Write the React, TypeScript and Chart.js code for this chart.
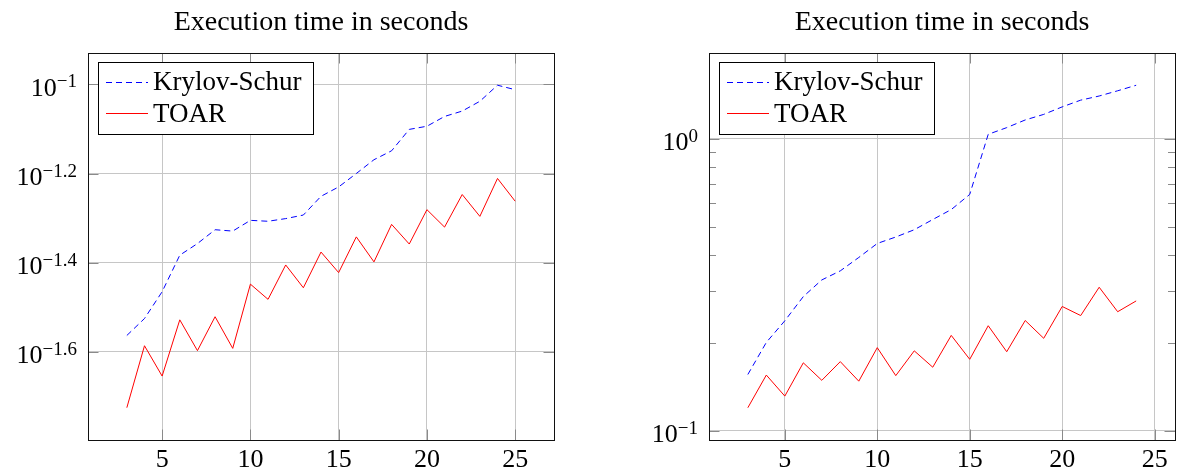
import React, { useEffect, useRef } from 'react';
import { Chart, registerables } from 'chart.js';

Chart.register(...registerables);

const TITLE = 'Execution time in seconds';
const LABEL_KRYLOV = 'Krylov-Schur';
const LABEL_TOAR = 'TOAR';

// Left panel
const leftSizes = [3, 4, 5, 6, 7, 8, 9, 10, 11, 12, 13, 14, 15, 16, 17, 18, 19, 20, 21, 22, 23, 24, 25];
const leftKrylov = [0.02735, 0.02985, 0.03428, 0.0414, 0.04395, 0.04721, 0.04688, 0.04955, 0.04932, 0.05, 0.05093, 0.0561, 0.05888, 0.0631, 0.06776, 0.07096, 0.07925, 0.08054, 0.08472, 0.0871, 0.09162, 0.09954, 0.09727];
const leftToar = [0.01884, 0.02594, 0.02218, 0.02965, 0.02529, 0.03013, 0.02559, 0.03565, 0.03296, 0.03936, 0.03499, 0.04207, 0.03784, 0.0455, 0.03999, 0.04853, 0.04385, 0.05236, 0.04786, 0.05662, 0.05058, 0.06152, 0.0547];

// Right panel
const rightSizes = [3, 4, 5, 6, 7, 8, 9, 10, 11, 12, 13, 14, 15, 16, 17, 18, 19, 20, 21, 22, 23, 24];
const rightKrylov = [0.1556, 0.2004, 0.2377, 0.2877, 0.3281, 0.3524, 0.3917, 0.4375, 0.4603, 0.4875, 0.5284, 0.5715, 0.6442, 1.035, 1.091, 1.159, 1.211, 1.285, 1.355, 1.4, 1.459, 1.524];
const rightToar = [0.1197, 0.1549, 0.1312, 0.1706, 0.1486, 0.1722, 0.1476, 0.1923, 0.1542, 0.1875, 0.1648, 0.2118, 0.1754, 0.2286, 0.1862, 0.2382, 0.207, 0.2661, 0.2477, 0.3097, 0.2553, 0.278];

// Ticks
const xTickValues = [5, 10, 15, 20, 25];
const leftYTickValues = [0.025119, 0.039811, 0.063096, 0.1];
const leftYTickExponents = ['\u22121.6', '\u22121.4', '\u22121.2', '\u22121'];
const rightYTickValues = [0.1, 1];
const rightYTickExponents = ['\u22121', '0'];
const rightYMinorValues = [0.2, 0.3, 0.4, 0.5, 0.6, 0.7, 0.8, 0.9, 2];

const FONT = '"Liberation Serif", "DejaVu Serif", serif';
const BLUE = '#0000ff';
const RED = '#ff0000';
const GRID = '#c6c6c6';
const TICKMARK = '#8a8a8a';

const decorPlugin = {
  id: 'decor',
  afterDraw(chart: any, _args: any, opts: any) {
    const { ctx, chartArea: a, scales } = chart;
    const xs = scales.x;
    const ys = scales.y;
    ctx.save();

    const seg = (x1: number, y1: number, x2: number, y2: number) => {
      ctx.beginPath();
      ctx.moveTo(x1, y1);
      ctx.lineTo(x2, y2);
      ctx.stroke();
    };

    // tick marks (inside, both sides)
    ctx.strokeStyle = TICKMARK;
    ctx.lineWidth = 1;
    for (const v of opts.xTicks) {
      const px = Math.round(xs.getPixelForValue(v)) + 0.5;
      seg(px, a.bottom, px, a.bottom - 10.5);
      seg(px, a.top, px, a.top + 10.5);
    }
    for (const v of opts.yTicks) {
      const py = Math.round(ys.getPixelForValue(v)) + 0.5;
      seg(a.left, py, a.left + 10.5, py);
      seg(a.right, py, a.right - 10.5, py);
    }
    for (const v of opts.yMinor) {
      if (v < ys.min || v > ys.max) continue;
      const py = Math.round(ys.getPixelForValue(v)) + 0.5;
      seg(a.left, py, a.left + 7, py);
      seg(a.right, py, a.right - 7, py);
    }

    // axis box
    ctx.strokeStyle = '#111';
    ctx.lineWidth = 1;
    ctx.strokeRect(Math.round(a.left) + 0.5, Math.round(a.top) + 0.5, Math.round(a.right - a.left), Math.round(a.bottom - a.top));

    ctx.fillStyle = '#000';
    ctx.textBaseline = 'alphabetic';

    // x tick labels
    ctx.font = `26px ${FONT}`;
    ctx.textAlign = 'center';
    for (const v of opts.xTicks) {
      ctx.fillText(String(v), xs.getPixelForValue(v), a.bottom + 26.5);
    }

    // y tick labels 10^e
    ctx.textAlign = 'left';
    opts.yTicks.forEach((v: number, i: number) => {
      const py = ys.getPixelForValue(v);
      const rightX = a.left - 11;
      const exp = opts.yExps[i];
      ctx.font = `19px ${FONT}`;
      const ew = ctx.measureText(exp).width;
      ctx.fillText(exp, rightX - ew, py + 3);
      ctx.font = `26px ${FONT}`;
      const bw = ctx.measureText('10').width;
      ctx.fillText('10', rightX - ew - bw, py + 11.5);
    });

    // title
    ctx.font = `28px ${FONT}`;
    ctx.textAlign = 'center';
    ctx.fillText(opts.title, (a.left + a.right) / 2, 30);

    // legend
    const datasets = chart.data.datasets;
    ctx.font = `27px ${FONT}`;
    let maxW = 0;
    for (const d of datasets) maxW = Math.max(maxW, ctx.measureText(d.label).width);
    const bx = Math.round(a.left + 9.5) + 0.5;
    const by = Math.round(a.top + 9) + 0.5;
    const bw = Math.round(54.5 + maxW + 12);
    const bh = 72;
    ctx.fillStyle = '#fff';
    ctx.fillRect(bx, by, bw, bh);
    ctx.strokeStyle = '#000';
    ctx.lineWidth = 1;
    ctx.strokeRect(bx, by, bw, bh);
    datasets.forEach((d: any, i: number) => {
      const ly = Math.round(a.top + 29 + i * 31) + 0.5;
      ctx.strokeStyle = d.borderColor;
      ctx.lineWidth = 1;
      ctx.setLineDash(d.borderDash || []);
      seg(bx + 7.5, ly, bx + 49.5, ly);
      ctx.setLineDash([]);
      ctx.fillStyle = '#000';
      ctx.textAlign = 'left';
      ctx.fillText(d.label, bx + 54.5, a.top + 37 + i * 31.5);
    });

    ctx.restore();
  },
};

function makeConfig(p: any) {
  const pts = (xs: number[], ys: number[]) => xs.map((x, i) => ({ x, y: ys[i] }));
  return {
    type: 'line',
    data: {
      datasets: [
        {
          label: LABEL_KRYLOV,
          data: pts(p.sizes, p.krylov),
          borderColor: BLUE,
          borderWidth: 1,
          borderDash: [6, 4],
          pointRadius: 0,
          fill: false,
          tension: 0,
        },
        {
          label: LABEL_TOAR,
          data: pts(p.sizes, p.toar),
          borderColor: RED,
          borderWidth: 1,
          pointRadius: 0,
          fill: false,
          tension: 0,
        },
      ],
    },
    options: {
      animation: false,
      responsive: false,
      devicePixelRatio: 1,
      layout: { padding: { top: 53, right: p.padRight, left: 0, bottom: 0 } },
      plugins: {
        legend: { display: false },
        title: { display: false },
        tooltip: { enabled: false },
        decor: {
          title: TITLE,
          xTicks: xTickValues,
          yTicks: p.yTicks,
          yExps: p.yExps,
          yMinor: p.yMinor,
        },
      },
      scales: {
        x: {
          type: 'linear',
          min: p.xMin,
          max: p.xMax,
          afterBuildTicks: (s: any) => {
            s.ticks = xTickValues.map((v) => ({ value: v }));
          },
          afterFit: (s: any) => {
            s.height = 29;
          },
          ticks: { display: false },
          grid: { color: GRID, lineWidth: 1, drawTicks: false },
          border: { display: false },
        },
        y: {
          type: 'logarithmic',
          min: p.yMin,
          max: p.yMax,
          afterBuildTicks: (s: any) => {
            s.ticks = p.yTicks.map((v: number) => ({ value: v }));
          },
          afterFit: (s: any) => {
            s.width = p.yWidth;
          },
          ticks: { display: false },
          grid: { color: GRID, lineWidth: 1, drawTicks: false },
          border: { display: false },
        },
      },
    },
    plugins: [decorPlugin],
  } as any;
}

export default function App() {
  const leftRef = useRef<HTMLCanvasElement | null>(null);
  const rightRef = useRef<HTMLCanvasElement | null>(null);

  useEffect(() => {
    const left = new Chart(
      leftRef.current as HTMLCanvasElement,
      makeConfig({
        sizes: leftSizes,
        krylov: leftKrylov,
        toar: leftToar,
        xMin: 0.8,
        xMax: 27.2,
        yMin: 0.015946,
        yMax: 0.11755,
        yTicks: leftYTickValues,
        yExps: leftYTickExponents,
        yMinor: [],
        yWidth: 88,
        padRight: 34,
      })
    );
    const right = new Chart(
      rightRef.current as HTMLCanvasElement,
      makeConfig({
        sizes: rightSizes,
        krylov: rightKrylov,
        toar: rightToar,
        xMin: 0.9,
        xMax: 26.1,
        yMin: 0.0928,
        yMax: 1.9656,
        yTicks: rightYTickValues,
        yExps: rightYTickExponents,
        yMinor: rightYMinorValues,
        yWidth: 121,
        padRight: 2,
      })
    );
    return () => {
      left.destroy();
      right.destroy();
    };
  }, []);

  return (
    <div style={{ position: 'fixed', left: 0, top: 0, width: 1177, height: 469, background: '#fff' }}>
      <canvas ref={leftRef} width={588} height={469} style={{ position: 'absolute', left: 0, top: 0, width: 588, height: 469 }} />
      <canvas ref={rightRef} width={589} height={469} style={{ position: 'absolute', left: 588, top: 0, width: 589, height: 469 }} />
    </div>
  );
}
